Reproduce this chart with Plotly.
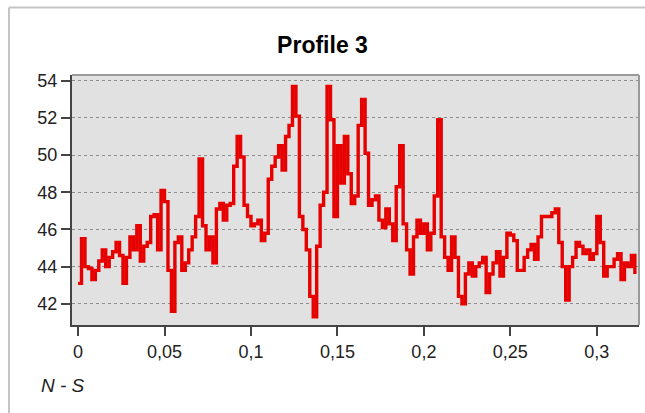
import plotly.graph_objects as go

# distance (x) and profile values (y)
x_vals = [
    0.000, 0.002, 0.004, 0.006, 0.008, 0.010, 0.012, 0.014, 0.016, 0.018,
    0.020, 0.022, 0.024, 0.026, 0.028, 0.030, 0.032, 0.034, 0.036, 0.038,
    0.040, 0.042, 0.044, 0.046, 0.048, 0.050, 0.052, 0.054, 0.056, 0.058,
    0.060, 0.062, 0.064, 0.066, 0.068, 0.070, 0.072, 0.074, 0.076, 0.078,
    0.080, 0.082, 0.084, 0.086, 0.088, 0.090, 0.092, 0.094, 0.096, 0.098,
    0.100, 0.102, 0.104, 0.106, 0.108, 0.110, 0.112, 0.114, 0.116, 0.118,
    0.120, 0.122, 0.124, 0.126, 0.128, 0.130, 0.132, 0.134, 0.136, 0.138,
    0.140, 0.142, 0.144, 0.146, 0.148, 0.150, 0.152, 0.154, 0.156, 0.158,
    0.160, 0.162, 0.164, 0.166, 0.168, 0.170, 0.172, 0.174, 0.176, 0.178,
    0.180, 0.182, 0.184, 0.186, 0.188, 0.190, 0.192, 0.194, 0.196, 0.198,
    0.200, 0.202, 0.204, 0.206, 0.208, 0.210, 0.212, 0.214, 0.216, 0.218,
    0.220, 0.222, 0.224, 0.226, 0.228, 0.230, 0.232, 0.234, 0.236, 0.238,
    0.240, 0.242, 0.244, 0.246, 0.248, 0.250, 0.252, 0.254, 0.256, 0.258,
    0.260, 0.262, 0.264, 0.266, 0.268, 0.270, 0.272, 0.274, 0.276, 0.278,
    0.280, 0.282, 0.284, 0.286, 0.288, 0.290, 0.292, 0.294, 0.296, 0.298,
    0.300, 0.302, 0.304, 0.306, 0.308, 0.310, 0.312, 0.314, 0.316, 0.318,
    0.320, 0.322,
]
y_vals = [
    43.1, 45.5, 44.0, 43.9, 43.3, 43.8, 44.3, 44.9, 44.0, 44.5,
    44.8, 45.3, 44.6, 43.1, 44.5, 45.6, 44.9, 46.2, 44.3, 45.1,
    45.3, 46.7, 46.8, 44.9, 48.1, 47.5, 43.8, 41.6, 45.3, 45.6,
    43.8, 44.2, 44.9, 45.6, 46.7, 49.8, 46.2, 44.9, 45.6, 44.2,
    47.1, 47.4, 46.5, 47.3, 47.4, 49.4, 51.0, 49.9, 47.3, 46.7,
    46.2, 46.3, 46.5, 45.4, 45.8, 48.7, 49.4, 49.9, 50.5, 49.2,
    51.0, 51.6, 53.7, 52.1, 46.7, 46.0, 44.9, 42.4, 41.3, 45.1,
    47.3, 48.0, 53.7, 51.9, 46.7, 50.5, 48.5, 51.0, 49.0, 47.4,
    47.8, 51.6, 53.0, 50.1, 47.3, 47.6, 47.8, 46.5, 46.1, 47.1,
    46.3, 45.4, 48.3, 50.5, 46.3, 44.9, 43.6, 45.6, 46.5, 45.8,
    46.3, 44.9, 45.8, 47.8, 51.9, 45.6, 44.5, 43.8, 45.6, 44.5,
    42.4, 42.0, 43.6, 44.2, 43.5, 44.0, 44.2, 44.5, 42.6, 43.6,
    44.2, 44.8, 43.5, 44.5, 45.8, 45.7, 45.4, 43.8, 43.8, 44.5,
    44.9, 45.2, 44.4, 45.6, 46.7, 46.7, 46.7, 46.9, 47.1, 45.3,
    44.0, 42.2, 44.0, 44.5, 45.3, 45.1, 44.7, 44.9, 44.4, 44.7,
    46.7, 45.3, 43.5, 44.0, 44.0, 44.4, 44.7, 43.3, 44.2, 44.0,
    44.6, 43.6,
]

title_text = "Profile 3"
x_tick_vals = [0, 0.05, 0.1, 0.15, 0.2, 0.25, 0.3]
x_tick_text = ["0", "0,05", "0,1", "0,15", "0,2", "0,25", "0,3"]
y_tick_vals = [42, 44, 46, 48, 50, 52, 54]
x_label = "N - S"

FONT = "Liberation Sans, Arial, sans-serif"

fig = go.Figure()
fig.add_trace(go.Scatter(
    x=x_vals, y=y_vals, mode="lines",
    line=dict(color="#e60000", width=3.4, shape="hv"),
    showlegend=False, hoverinfo="skip",
))

W, H = 645, 413
L, R, T, B = 72, 6, 75, 88
pw = W - L - R
ph = H - T - B

def px_x(p):
    return (p - L) / pw

def px_y(p):
    return (H - B - p) / ph

fig.update_layout(
    width=W, height=H,
    margin=dict(l=L, r=R, t=T, b=B),
    paper_bgcolor="white",
    plot_bgcolor="#e1e1e1",
    font=dict(family=FONT, size=18, color="#222222"),
    title=dict(text="<b>" + title_text + "</b>", x=0.5, xref="container",
               xanchor="center", y=1 - 45 / H, yref="container", yanchor="middle",
               font=dict(family=FONT, size=23, color="#000000")),
    xaxis=dict(
        range=[-0.0035, 0.3244], tickvals=x_tick_vals, ticktext=x_tick_text,
        showgrid=False, zeroline=False, showline=True, linecolor="#444444",
        linewidth=2, ticks="outside", ticklen=9, tickwidth=2, tickcolor="#444444",
        tickfont=dict(size=18, color="#222222"),
    ),
    yaxis=dict(
        range=[40.86, 54.31], tickvals=y_tick_vals,
        showgrid=True, gridcolor="#8c8c8c", gridwidth=1, griddash="dot",
        zeroline=False, showline=True, linecolor="#444444", linewidth=2,
        ticks="outside", ticklen=9, tickwidth=2, tickcolor="#444444",
        tickfont=dict(size=18, color="#222222"),
    ),
    shapes=[
        dict(type="line", xref="paper", yref="paper", x0=0, x1=1, y0=1, y1=1,
             line=dict(color="#9a9a9a", width=2)),
        dict(type="line", xref="paper", yref="paper", x0=1, x1=1, y0=0, y1=1,
             line=dict(color="#9a9a9a", width=2)),
        dict(type="line", xref="paper", yref="paper", x0=px_x(9), x1=px_x(660),
             y0=px_y(7.5), y1=px_y(7.5), line=dict(color="#c4c4c4", width=2)),
        dict(type="line", xref="paper", yref="paper", x0=px_x(9), x1=px_x(9),
             y0=px_y(7.5), y1=px_y(430), line=dict(color="#c4c4c4", width=2)),
    ],
    annotations=[
        dict(text="<i>" + x_label + "</i>", xref="paper", yref="paper",
             x=px_x(39), y=px_y(385), xanchor="left", yanchor="middle",
             showarrow=False, font=dict(family=FONT, size=19, color="#222222")),
    ],
)

fig.write_html(
    "out.html",
    config={"displayModeBar": False, "staticPlot": True},
    post_script=(
        "document.body.style.margin='0';"
        "document.body.style.overflow='hidden';"
        "document.documentElement.style.overflow='hidden';"
    ),
)
